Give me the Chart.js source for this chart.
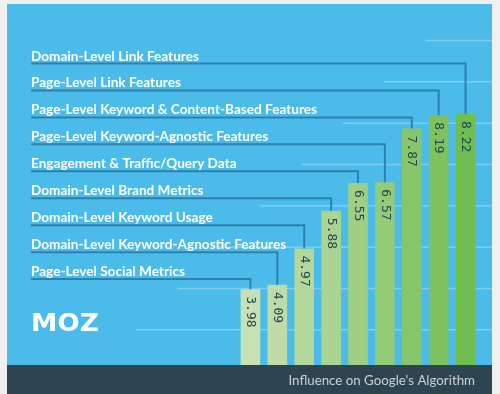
<!DOCTYPE html>
<html>
<head>
<meta charset="utf-8">
<script src="https://cdn.jsdelivr.net/npm/chart.js@4"></script>
<style>
  html, body { margin: 0; padding: 0; background: #f0f0f0; }
  #wrap { width: 500px; height: 394px; }
</style>
</head>
<body>
<div id="wrap"><canvas id="myChart" width="500" height="394"></canvas></div>
<script>
// factors, ordered from the bottom label to the top label (= left bar to right bar)
const factors = [
    'Page-Level Social Metrics',
    'Domain-Level Keyword-Agnostic Features',
    'Domain-Level Keyword Usage',
    'Domain-Level Brand Metrics',
    'Engagement & Traffic/Query Data',
    'Page-Level Keyword-Agnostic Features',
    'Page-Level Keyword & Content-Based Features',
    'Page-Level Link Features',
    'Domain-Level Link Features'
];
const influence = [3.98, 4.09, 4.97, 5.88, 6.55, 6.57, 7.87, 8.19, 8.22];
const barColors = [
    '#c6e1b4', '#bddca8', '#b3d89c', '#a9d491', '#9ecf85',
    '#94cb79', '#88c66c', '#7dc25f', '#70bd50'
];
const footerText = "Influence on Google's Algorithm";

const ctx = document.getElementById('myChart');

const backdrop = {
    id: 'backdrop',
    beforeDraw(chart) {
        const c = chart.ctx;
        c.save();
        c.fillStyle = '#f0f0f0';
        c.fillRect(0, 0, chart.width, chart.height);
        c.fillStyle = '#4bbbea';
        c.fillRect(7, 4, 485, 361);
        c.fillStyle = '#2e4551';
        c.fillRect(7, 365, 485, 29);
        c.restore();
    },
    beforeDatasetsDraw(chart) {
        // diagonal-staircase grid lines on the integer ticks
        const c = chart.ctx;
        const y = chart.scales.y;
        c.save();
        c.strokeStyle = 'rgba(255,255,255,0.28)';
        c.lineWidth = 1.5;
        for (let v = Math.ceil(y.min); v <= Math.floor(y.max); v++) {
            const py = y.getPixelForValue(v);
            c.beginPath();
            c.moveTo(466 - py, py);
            c.lineTo(492, py);
            c.stroke();
        }
        c.restore();
    },
    afterDatasetsDraw(chart) {
        const c = chart.ctx;
        const meta = chart.getDatasetMeta(0);
        const n = factors.length;
        c.save();
        // leader lines + labels
        for (let i = 0; i < n; i++) {
            const bar = meta.data[i];
            const row = n - 1 - i;
            const ly = 63.5 + row * 26.95;
            c.strokeStyle = '#2c82ad';
            c.lineWidth = 2;
            c.beginPath();
            c.moveTo(31, ly);
            c.lineTo(bar.x, ly);
            c.lineTo(bar.x, bar.y);
            c.stroke();
            c.fillStyle = '#ffffff';
            c.font = 'bold 13.6px Lato';
            c.textBaseline = 'alphabetic';
            c.textAlign = 'left';
            c.fillText(factors[i], 31, ly - 3);
        }
        // values inside bars, rotated
        for (let i = 0; i < n; i++) {
            const bar = meta.data[i];
            c.save();
            c.translate(bar.x, bar.y + 7);
            c.rotate(Math.PI / 2);
            c.fillStyle = '#264850';
            c.font = '13px "DejaVu Sans Mono"';
            c.textAlign = 'left';
            c.textBaseline = 'middle';
            c.fillText(influence[i].toFixed(2), 0, 0);
            c.restore();
        }
        // logo
        c.fillStyle = '#ffffff';
        c.font = 'bold 24px "DejaVu Sans"';
        c.textBaseline = 'alphabetic';
        c.textAlign = 'left';
        const w = c.measureText('MOZ').width;
        c.save();
        c.translate(31, 331);
        c.scale(68 / w, 1);
        c.fillText('MOZ', 0, 0);
        c.restore();
        // footer
        c.fillStyle = '#c9d2d6';
        c.font = '13.3px Lato';
        c.textAlign = 'right';
        c.textBaseline = 'middle';
        c.fillText(footerText, 475, 381);
        c.restore();
    }
};

new Chart(ctx, {
    type: 'bar',
    data: {
        labels: factors,
        datasets: [{
            label: 'Influence',
            data: influence,
            backgroundColor: barColors,
            borderWidth: 0,
            categoryPercentage: 0.73,
            barPercentage: 1
        }]
    },
    options: {
        responsive: false,
        animation: false,
        layout: { padding: { left: 237, right: 21, top: 0, bottom: 29 } },
        scales: {
            x: { display: false },
            y: { display: false, min: 2.15, max: 10.98 }
        },
        plugins: {
            legend: { display: false },
            tooltip: { enabled: false }
        }
    },
    plugins: [backdrop]
});
</script>
</body>
</html>
